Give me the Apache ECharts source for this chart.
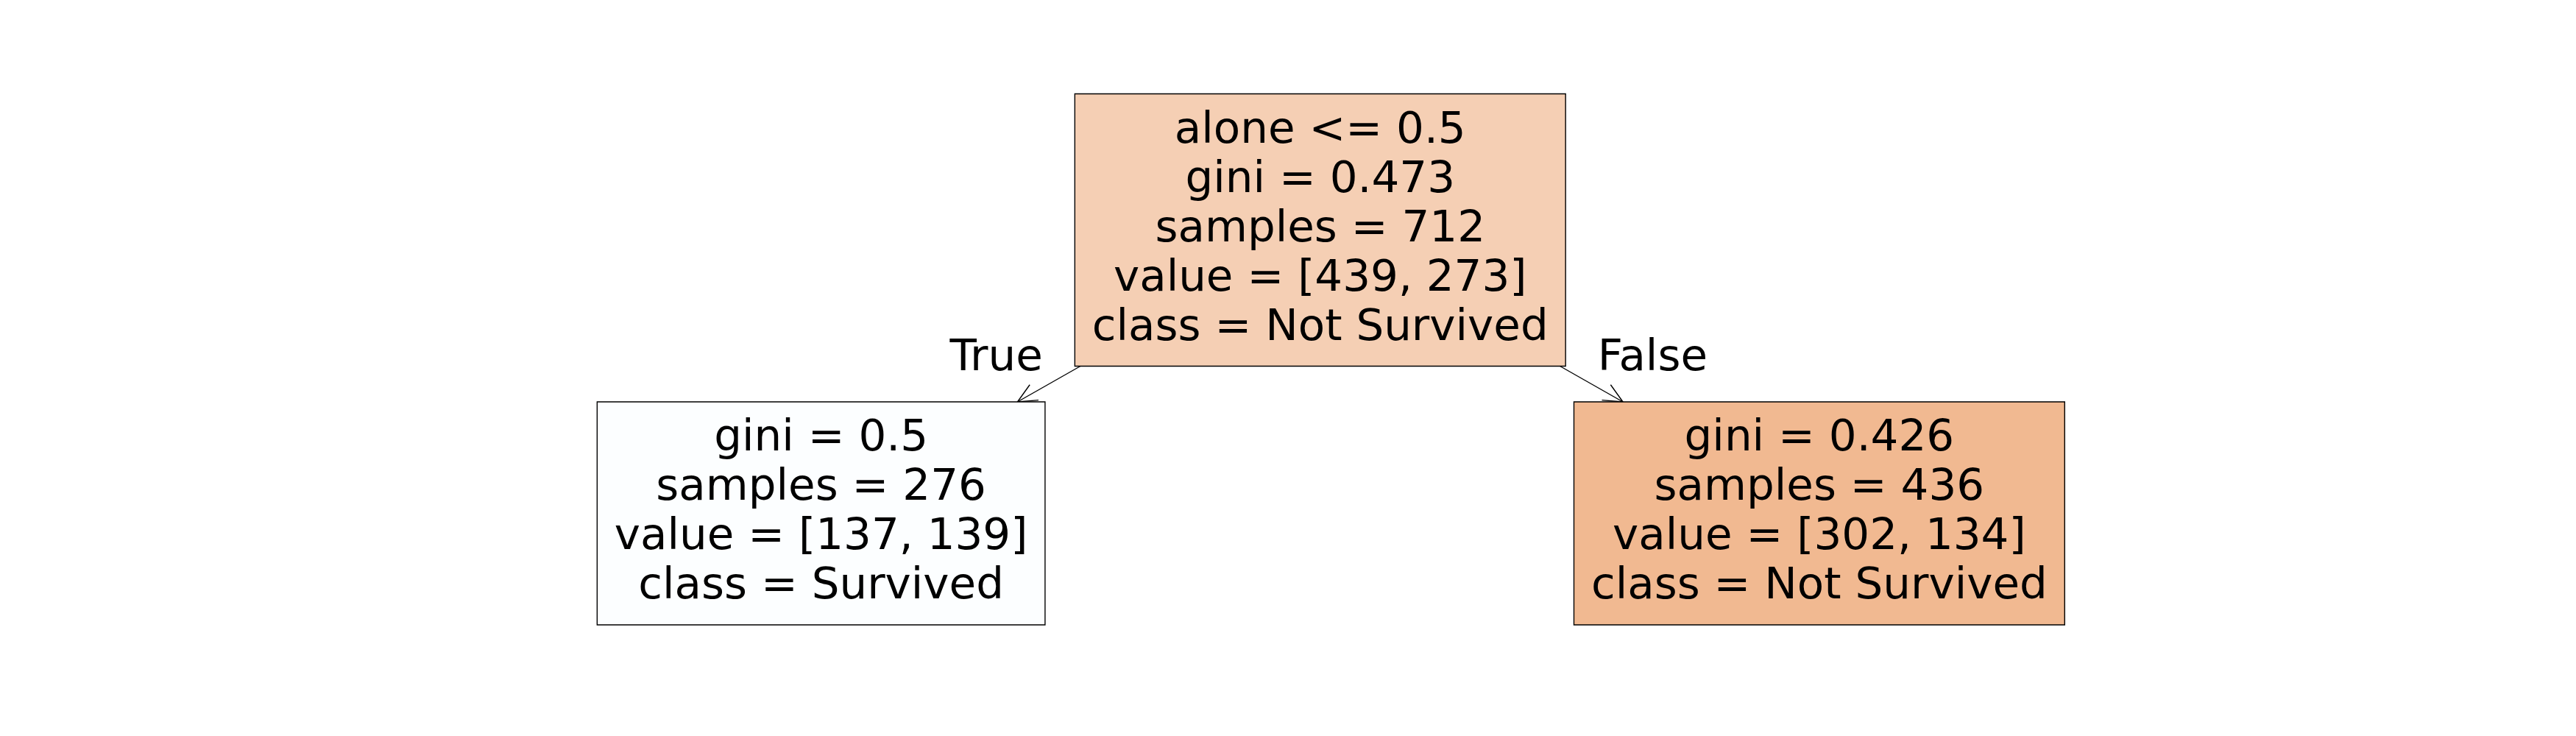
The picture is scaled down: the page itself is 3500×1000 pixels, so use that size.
<!DOCTYPE html>
<html>
<head>
<meta charset="utf-8">
<script src="https://cdn.jsdelivr.net/npm/echarts@6/dist/echarts.min.js"></script>
<style>
html,body{margin:0;padding:0;background:#fff;}
#chart{width:3500px;height:1000px;}
</style>
</head>
<body>
<div id="chart"></div>
<script>
// ---- data ----
const nodeSplit = ['alone <= 0.5', '', ''];
const nodeGini = [0.473, 0.5, 0.426];
const nodeSamples = [712, 276, 436];
const nodeValues = [[439, 273], [137, 139], [302, 134]];
const classNames = ['Not Survived', 'Survived'];
const nodeX = [0, -1, 1];
const nodeDepth = [0, 1, 1];
const edgeParent = [0, 0];
const edgeChild = [1, 2];
const edgeLabels = ['True', 'False'];

// ---- styling ----
const FONT_SIZE = 59.5;
const FONT_FAMILY = '"DejaVu Sans", sans-serif';
const LINE_H = 67;
const PAD_X = 23.5;
const PAD_Y = 17.5;
const classRGB = [[229, 129, 57], [57, 157, 229]];

function nodeLines(i) {
  const v = nodeValues[i];
  const cls = v[0] >= v[1] ? 0 : 1;
  const lines = [];
  if (nodeSplit[i]) lines.push(nodeSplit[i]);
  lines.push('gini = ' + nodeGini[i]);
  lines.push('samples = ' + nodeSamples[i]);
  lines.push('value = [' + v.join(', ') + ']');
  lines.push('class = ' + classNames[cls]);
  return lines;
}
function nodeColor(i) {
  const v = nodeValues[i];
  const tot = v[0] + v[1];
  const p = v.map(x => x / tot);
  const cls = p[0] >= p[1] ? 0 : 1;
  const sorted = p.slice().sort((a, b) => b - a);
  const alpha = (sorted[0] - sorted[1]) / (1 - sorted[1]);
  const c = classRGB[cls].map(x => Math.round(alpha * x + (1 - alpha) * 255));
  return 'rgb(' + c.join(',') + ')';
}

const cvs = document.createElement('canvas');
const ctx = cvs.getContext('2d');
ctx.font = FONT_SIZE + 'px ' + FONT_FAMILY;
const boxW = [], boxH = [], texts = [];
for (let i = 0; i < nodeX.length; i++) {
  const lines = nodeLines(i);
  texts.push(lines.join('\n'));
  let w = 0;
  lines.forEach(l => { w = Math.max(w, ctx.measureText(l).width); });
  boxW.push(w + 2 * PAD_X);
  boxH.push(lines.length * LINE_H + 2 * PAD_Y);
}

const chart = echarts.init(document.getElementById('chart'), null, {renderer: 'canvas'});

function renderNode(params, api) {
  const i = api.value(2);
  const c = api.coord([api.value(0), api.value(1)]);
  return {
    type: 'group',
    children: [
      {
        type: 'rect',
        shape: {x: c[0] - boxW[i] / 2, y: c[1] - boxH[i] / 2, width: boxW[i], height: boxH[i]},
        style: {fill: nodeColor(i), stroke: '#000', lineWidth: 1.4}
      },
      {
        type: 'text',
        x: c[0], y: c[1],
        style: {
          text: texts[i], fill: '#000', fontSize: FONT_SIZE, fontFamily: FONT_FAMILY,
          align: 'center', verticalAlign: 'middle', lineHeight: LINE_H
        }
      }
    ]
  };
}

function renderEdge(params, api) {
  const e = api.value(2);
  const p = edgeParent[e], ch = edgeChild[e];
  const P = api.coord([nodeX[p], nodeDepth[p]]);
  const C = api.coord([nodeX[ch], nodeDepth[ch]]);
  const dx = C[0] - P[0], dy = C[1] - P[1];
  const tOut = Math.min(boxW[p] / 2 / Math.abs(dx || 1e-9), boxH[p] / 2 / Math.abs(dy || 1e-9));
  const tIn = 1 - Math.min(boxW[ch] / 2 / Math.abs(dx || 1e-9), boxH[ch] / 2 / Math.abs(dy || 1e-9));
  const S = [P[0] + dx * tOut, P[1] + dy * tOut];
  const T = [P[0] + dx * tIn, P[1] + dy * tIn];
  const len = Math.hypot(dx, dy);
  const ux = dx / len, uy = dy / len;
  const nx = -uy, ny = ux;
  const HL = 26, HW = 12;
  const w1 = [T[0] - ux * HL + nx * HW, T[1] - uy * HL + ny * HW];
  const w2 = [T[0] - ux * HL - nx * HW, T[1] - uy * HL - ny * HW];
  const mid = [(P[0] + C[0]) / 2, (P[1] + C[1]) / 2];
  const isLeft = nodeX[ch] < nodeX[p];
  return {
    type: 'group',
    children: [
      {type: 'line', shape: {x1: S[0], y1: S[1], x2: T[0], y2: T[1]}, style: {stroke: '#000', lineWidth: 1.4}},
      {type: 'polyline', shape: {points: [w1, T, w2]}, style: {stroke: '#000', lineWidth: 1.4, fill: null}},
      {
        type: 'text', x: mid[0], y: mid[1] - 17,
        style: {
          text: isLeft ? edgeLabels[e] + '  ' : '  ' + edgeLabels[e],
          fill: '#000', fontSize: FONT_SIZE, fontFamily: FONT_FAMILY,
          align: isLeft ? 'right' : 'left', verticalAlign: 'middle'
        }
      }
    ]
  };
}

chart.setOption({
  animation: false,
  backgroundColor: '#fff',
  grid: {left: 437.5, right: 350, top: 120, bottom: 110, containLabel: false},
  xAxis: {type: 'value', min: -2, max: 2, show: false},
  yAxis: {type: 'value', min: -0.5, max: 1.5, inverse: true, show: false},
  series: [
    {
      type: 'custom', clip: false, z: 1,
      renderItem: renderEdge,
      encode: {x: 0, y: 1},
      data: edgeChild.map((c, e) => [nodeX[c], nodeDepth[c], e])
    },
    {
      type: 'custom', clip: false, z: 2,
      renderItem: renderNode,
      encode: {x: 0, y: 1},
      data: nodeX.map((x, i) => [x, nodeDepth[i], i])
    }
  ]
});
</script>
</body>
</html>
